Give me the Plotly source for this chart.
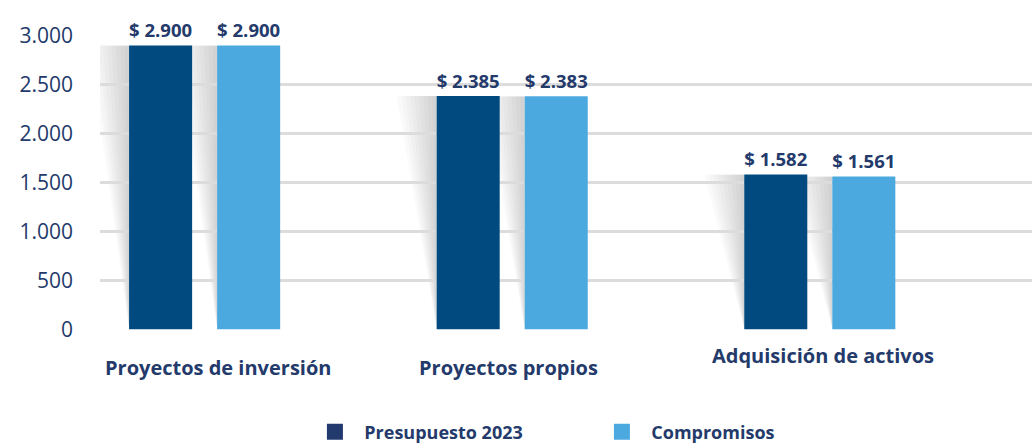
import plotly.graph_objects as go

categories = ["Proyectos de inversión", "Proyectos propios", "Adquisición de activos"]
presupuesto = [2900, 2385, 1582]
compromisos = [2900, 2383, 1561]
series_names = ["Presupuesto 2023", "Compromisos"]
y_ticks = [0, 500, 1000, 1500, 2000, 2500, 3000]

DARK = "#004a80"
LIGHT = "#4ca9e0"
NAVY = "#233a6b"
FONT = "Open Sans"

x_pos = list(range(len(categories)))
BAR_W = 0.205
OFFSETS = [-0.2455, 0.0407]
SHADOW_W = 0.13

fig = go.Figure()

# Shadows (as below-layer shapes derived from data)
shapes = []
for vals, off in [(presupuesto, OFFSETS[0]), (compromisos, OFFSETS[1])]:
    for xi, v in zip(x_pos, vals):
        left = xi + off
        n = 9
        for k in range(1, n + 1):
            w = SHADOW_W * k / n
            path = f"M {left - w},{v} L {left},{v} L {left},0 Z"
            shapes.append(dict(type="path", path=path, xref="x", yref="y",
                               fillcolor="rgba(0,0,0,0.02)", line=dict(width=0),
                               layer="below"))

for vals, name, color, off in [(presupuesto, series_names[0], DARK, OFFSETS[0]),
                               (compromisos, series_names[1], LIGHT, OFFSETS[1])]:
    fig.add_trace(go.Bar(
        x=x_pos, y=vals, name=name, width=BAR_W, offset=off,
        marker=dict(color=color, line=dict(width=0)),
        texttemplate="$ %{y:,d}", textposition="outside",
        textfont=dict(family=FONT, size=21, color=NAVY, weight="bold"),
        cliponaxis=False, showlegend=False,
    ))

legend_colors = ["#233a6e", "#4ca9e0"]
for name, c in zip(series_names, legend_colors):
    fig.add_trace(go.Scatter(x=[None], y=[None], mode="markers",
                             name="\u00a0\u00a0" + name,
                             marker=dict(symbol="square", size=19, color=c)))

label_yshift = [2, 2, 14]
label_xshift = [13, -4, 3]
annotations = []
for xi, cat, ys, xs in zip(x_pos, categories, label_yshift, label_xshift):
    annotations.append(dict(x=xi, y=0, xref="x", yref="y", text=f"<b>{cat}</b>",
                            showarrow=False, yanchor="top", yshift=-25 + ys, xshift=xs,
                            font=dict(family=FONT, size=20, color=NAVY)))

fig.update_layout(
    width=1032, height=443,
    margin=dict(l=100, r=0, t=35, b=113, autoexpand=False),
    paper_bgcolor="white", plot_bgcolor="white",
    separators=",.",
    shapes=shapes,
    annotations=annotations,
    xaxis=dict(range=[-0.34, 2.69], showticklabels=False, showgrid=False,
               zeroline=False, showline=False, automargin=False),
    yaxis=dict(range=[-8, 3008], tickvals=y_ticks, tickformat=",d",
               showgrid=True, gridcolor="#dcdcdc", gridwidth=3,
               zeroline=False, showline=False, ticks="", automargin=False,
               ticklabelstandoff=26,
               tickfont=dict(family=FONT, size=21, color=NAVY)),
    legend=dict(orientation="h", x=0.2306, xanchor="left", y=-0.2836, yanchor="top",
                entrywidth=242, entrywidthmode="pixels",
                font=dict(family=FONT, size=18, color=NAVY, weight="bold")),
    font=dict(family=FONT),
)

fig.write_html("out.html", config={"displayModeBar": False},
               post_script="document.body.style.margin='0';document.body.style.padding='0';")
